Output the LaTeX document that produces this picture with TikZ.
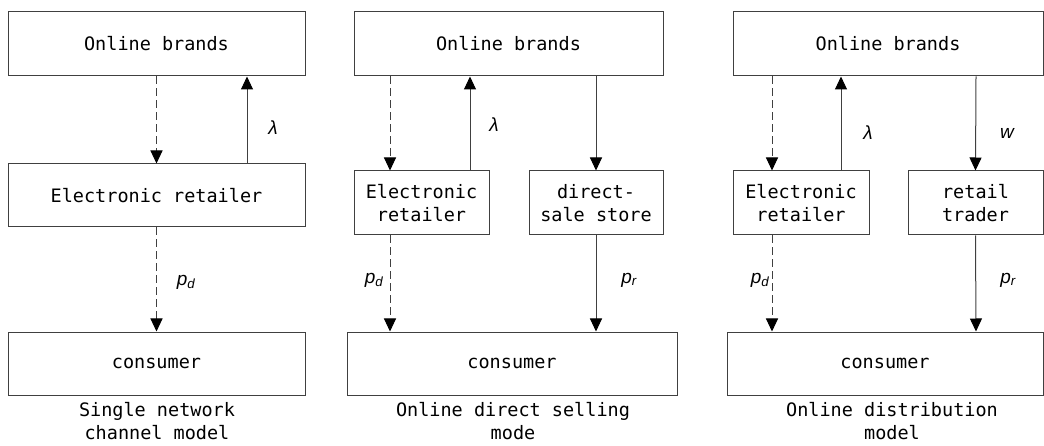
\documentclass[tikz,border=0pt]{standalone}
\usepackage{fontspec}
\setmonofont{DejaVu Sans Mono}
\newfontfamily\labelfont{Liberation Sans}
\usetikzlibrary{arrows.meta}

\tikzset{
	box/.style={draw=black!75, line width=1pt, inner sep=0pt, align=center,
		font=\ttfamily\fontsize{18.5}{23}\selectfont},
	captext/.style={inner sep=0pt, align=center, font=\ttfamily\fontsize{18.5}{23}\selectfont},
	lbl/.style={inner sep=0pt, font=\labelfont\itshape\fontsize{19}{22}\selectfont},
	sline/.style={draw=black!75, line width=1pt, -{Triangle[length=13pt,width=12pt,color=black,fill=black]}},
	dline/.style={sline, dash pattern=on 8pt off 4pt}
}

\begin{document}
\begin{tikzpicture}[x=1pt,y=-1pt]
			\useasboundingbox (0,0) rectangle (1044,446);
			
			% single network channel
			\node[box, minimum width=297pt, minimum height=64pt] (brand1) at (156.5,44) {Online brands};
			\node[box, minimum width=297pt, minimum height=63pt] (retail1) at (156.5,195.5) {Electronic retailer};
			\node[box, minimum width=297pt, minimum height=63pt] (cons1) at (156.5,363.5) {consumer};
			\draw[dline] (brand1.south) -- (retail1.north);
			\draw[sline] ([xshift=90.5pt]retail1.north) -- ([xshift=90.5pt]brand1.south);
			\draw[dline] (retail1.south) -- (cons1.north);
			\node[lbl] (lam1) at (273,128) {λ};
			\node[lbl] (pd1) at (186,282) {p\textsubscript{d}};
			\node[captext] (cap1) at (157,421.5) {Single network\\channel model};
			
			% online direct selling
			\node[box, minimum width=309pt, minimum height=64pt] (brand2) at (508.5,44) {Online brands};
			\node[box, minimum width=135pt, minimum height=64pt] (retail2) at (421.5,203) {Electronic\\retailer};
			\node[box, minimum width=134pt, minimum height=64pt] (store2) at (596,203) {direct-\\sale store};
			\node[box, minimum width=330pt, minimum height=63pt] (cons2) at (512,363.5) {consumer};
			\draw[dline] ([xshift=-118.5pt]brand2.south) -- ([xshift=-31.5pt]retail2.north);
			\draw[sline] ([xshift=48.5pt]retail2.north) -- ([xshift=-38.5pt]brand2.south);
			\draw[sline] ([xshift=87.5pt]brand2.south) -- (store2.north);
			\draw[dline] ([xshift=-31.5pt]retail2.south) -- ([xshift=-122pt]cons2.north);
			\draw[sline] (store2.south) -- ([xshift=84pt]cons2.north);
			\node[lbl] (lam2) at (494,125) {λ};
			\node[lbl] (pd2) at (374,280) {p\textsubscript{d}};
			\node[lbl] (pr2) at (629,280) {p\textsubscript{r}};
			\node[captext] (cap2) at (513,421.5) {Online direct selling\\mode};
			
			% online distribution
			\node[box, minimum width=310pt, minimum height=64pt] (brand3) at (888,44) {Online brands};
			\node[box, minimum width=136pt, minimum height=64pt] (retail3) at (801,203) {Electronic\\retailer};
			\node[box, minimum width=135pt, minimum height=64pt] (trader3) at (975.5,203) {retail\\trader};
			\node[box, minimum width=316pt, minimum height=63pt] (cons3) at (885,363.5) {consumer};
			\draw[dline] ([xshift=-116pt]brand3.south) -- ([xshift=-29pt]retail3.north);
			\draw[sline] ([xshift=40pt]retail3.north) -- ([xshift=-47pt]brand3.south);
			\draw[sline] ([xshift=88pt]brand3.south) -- (trader3.north);
			\draw[dline] ([xshift=-29pt]retail3.south) -- ([xshift=-113pt]cons3.north);
			\draw[sline] (trader3.south) -- ([xshift=91pt]cons3.north);
			\node[lbl] (lam3) at (868,133) {λ};
			\node[lbl] (w3) at (1007,133) {w};
			\node[lbl] (pd3) at (760,280) {p\textsubscript{d}};
			\node[lbl] (pr3) at (1008,280) {p\textsubscript{r}};
			\node[captext] (cap3) at (892,421.5) {Online distribution\\model};
\end{tikzpicture}
\end{document}
